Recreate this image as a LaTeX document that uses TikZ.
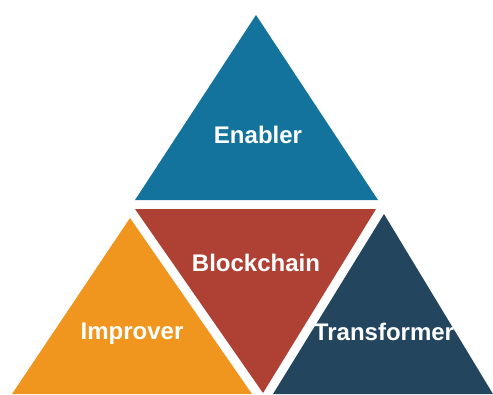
\documentclass[tikz,border=0pt]{standalone}
\usepackage{fontspec}
\setmainfont{Liberation Sans}
\definecolor{cblue}{HTML}{13739C}
\definecolor{cred}{HTML}{AE4133}
\definecolor{corange}{HTML}{F0951E}
\definecolor{cnavy}{HTML}{23465E}
\tikzset{lbl/.style={text=white,font=\bfseries\fontsize{24bp}{28bp}\selectfont,anchor=base,inner sep=0pt}}
\begin{document}
\begin{tikzpicture}[x=1bp,y=-1bp]
\useasboundingbox (0,0) rectangle (493,394);
\fill[cblue] (256,15) -- (378,200) -- (135,200) -- cycle;
\fill[cred] (135,209) -- (376,209) -- (263,393) -- cycle;
\fill[corange] (130,218) -- (252,394) -- (12,394) -- cycle;
\fill[cnavy] (384,214) -- (493,394) -- (273,394) -- cycle;
\node[lbl] (enabler) at (258,143) {Enabler};
\node[lbl] (blockchain) at (256,271) {Blockchain};
\node[lbl] (improver) at (132,339) {Improver};
\node[lbl] (transformer) at (384,340) {Transformer};
\end{tikzpicture}
\end{document}
